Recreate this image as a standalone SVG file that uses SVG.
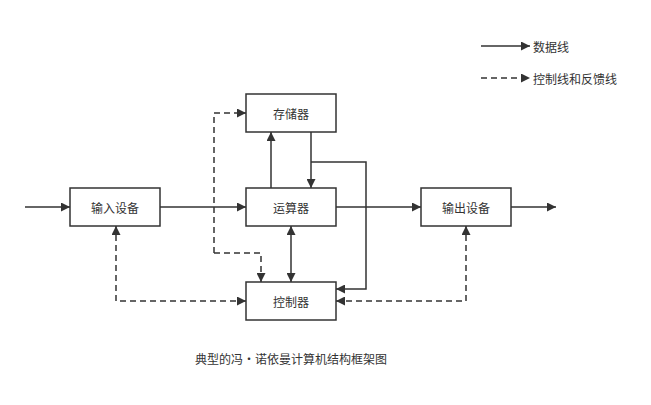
<svg xmlns="http://www.w3.org/2000/svg" width="651" height="405" viewBox="0 0 651 405">
<style>
.box{fill:#fff;stroke:#333;stroke-width:1.5}
.t{font-family:"Noto Sans CJK SC",sans-serif;font-size:12px;fill:#333;text-anchor:middle;dominant-baseline:central}
.l{fill:none;stroke:#333;stroke-width:1.5}
.d{stroke-dasharray:6 4}
</style>
<defs>
<marker id="a" viewBox="0 0 10 10" refX="10" refY="5" markerWidth="9" markerHeight="9" markerUnits="userSpaceOnUse" orient="auto-start-reverse"><path d="M0,0L10,5L0,10z" fill="#333"/></marker>
</defs>
<rect width="651" height="405" fill="#fff"/>
<g id="connectors">
<path class="l" d="M25,207H70" marker-end="url(#a)"/>
<path class="l" d="M160,207H246" marker-end="url(#a)"/>
<path class="l" d="M336,207H421" marker-end="url(#a)"/>
<path class="l" d="M511,207H556" marker-end="url(#a)"/>
<path class="l" d="M271,188V132" marker-end="url(#a)"/>
<path class="l" d="M311,132V188" marker-end="url(#a)"/>
<path class="l" d="M311,162H366V289H336" marker-end="url(#a)"/>
<path class="l" d="M291,226V282" marker-start="url(#a)" marker-end="url(#a)"/>
<path class="l d" d="M214,253V113H246" marker-end="url(#a)"/>
<path class="l d" d="M214,253H261V282" marker-end="url(#a)"/>
<path class="l d" d="M246,301H116V226" marker-start="url(#a)" marker-end="url(#a)"/>
<path class="l d" d="M336,301H466V226" marker-start="url(#a)" marker-end="url(#a)"/>
<path class="l" d="M481,46H530" marker-end="url(#a)"/>
<path class="l d" d="M481,78H530" marker-end="url(#a)"/>
</g>
<g id="memory"><rect class="box" x="246" y="94" width="90" height="38"/><text class="t" x="291" y="113">存储器</text></g>
<g id="alu"><rect class="box" x="246" y="188" width="90" height="38"/><text class="t" x="291" y="207">运算器</text></g>
<g id="control"><rect class="box" x="246" y="282" width="90" height="38"/><text class="t" x="291" y="301">控制器</text></g>
<g id="input"><rect class="box" x="70" y="188" width="90" height="38"/><text class="t" x="115" y="207">输入设备</text></g>
<g id="output"><rect class="box" x="421" y="188" width="90" height="38"/><text class="t" x="466" y="207">输出设备</text></g>
<g id="legend">
<text class="t" x="533" y="46" style="text-anchor:start">数据线</text>
<text class="t" x="533" y="78" style="text-anchor:start">控制线和反馈线</text>
</g>
<text class="t" x="291" y="358">典型的冯·诺依曼计算机结构框架图</text>
</svg>
